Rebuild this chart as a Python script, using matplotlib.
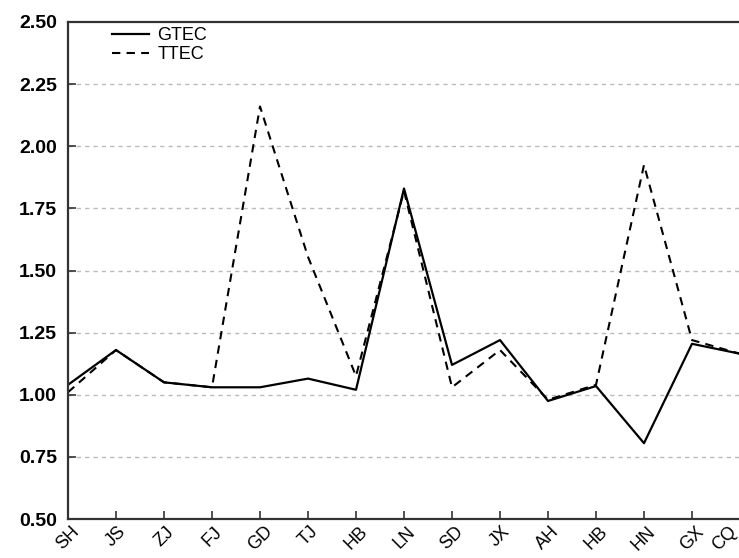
import matplotlib.pyplot as plt
import numpy as np

plt.rcParams['font.family'] = ['Liberation Sans', 'DejaVu Sans']

# provinces along the x axis
regions = ["SH", "JS", "ZJ", "FJ", "GD", "TJ", "HB", "LN", "SD", "JX", "AH", "HB", "HN", "GX", "CQ"]
gtec = [1.04, 1.18, 1.05, 1.03, 1.03, 1.065, 1.02, 1.83, 1.12, 1.22, 0.975, 1.035, 0.805, 1.205, 1.165]
ttec = [1.01, 1.18, 1.05, 1.03, 2.16, 1.555, 1.075, 1.82, 1.03, 1.18, 0.98, 1.04, 1.925, 1.22, 1.165]
yticks = [0.5, 0.75, 1.0, 1.25, 1.5, 1.75, 2.0, 2.25, 2.5]

W, H = 739, 558
fig = plt.figure(figsize=(W/100, H/100), dpi=100)
ax = fig.add_axes([68/W, (H-519)/H, (740-68)/W, (519-22)/H])

x = np.arange(len(regions))
ax.plot(x, gtec, color="black", lw=1.6, label="GTEC")
ax.plot(x, ttec, color="black", lw=1.5, ls=(0, (4, 3)), label="TTEC")

ax.set_xlim(0, len(regions)-1)
ax.set_ylim(0.5, 2.5)
ax.set_yticks(yticks)
ax.set_yticklabels(["%.2f" % v for v in yticks], fontsize=14, fontweight="bold")
ax.set_xticks(x)
ax.set_xticklabels(regions, rotation=45, fontsize=13, ha="center")
# last label would fall off the figure edge, keep it inside
ax.get_xticklabels()[-1].set_ha("right")
ax.tick_params(direction="in", length=6, width=1.2, colors="#333333", labelcolor="black")
ax.tick_params(axis="y", pad=8)
ax.tick_params(axis="x", pad=3)

for v in yticks[1:-1]:
    ax.axhline(v, color="#bbbbbb", lw=1, ls=(0, (3, 3)), zorder=0)

for s in ["left", "bottom", "top"]:
    ax.spines[s].set_linewidth(1.6)
    ax.spines[s].set_color("#333333")
ax.spines["right"].set_visible(False)

ax.legend(loc="upper left", bbox_to_anchor=(0.05, 1.012), frameon=False, fontsize=13,
          handlelength=2.0, handletextpad=0.5, labelspacing=0.12, borderaxespad=0.2)

fig.savefig("out.png", dpi=100)
